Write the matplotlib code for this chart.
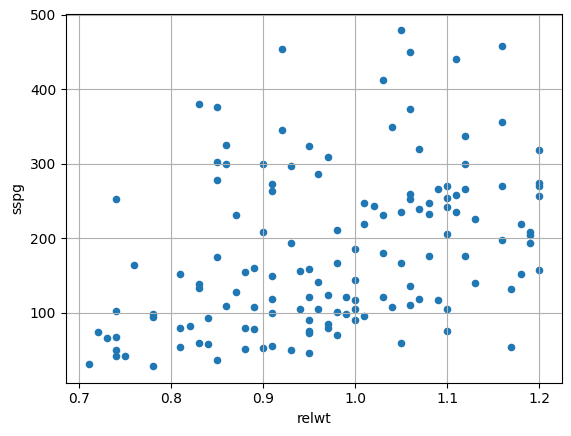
import matplotlib
matplotlib.use("Agg")
import matplotlib.pyplot as plt

relwt = [0.83, 0.85, 0.86, 0.92, 1.05, 1.03, 0.92, 0.95, 1.04, 1.06,
         1.11, 1.16, 1.06, 1.16, 1.12, 1.07, 1.20, 0.85, 0.86, 0.85,
         0.74, 0.87, 0.85, 0.76, 0.81, 0.83, 0.83, 0.97, 0.90, 0.93,
         0.96, 0.91, 0.91, 0.90, 1.01, 1.02, 1.03, 1.05, 1.01, 0.98,
         0.93, 1.00, 1.03, 1.05, 0.98, 0.88, 0.89, 0.91, 0.94, 0.95,
         0.96, 1.00, 0.87, 0.91, 0.95, 0.97, 0.99, 1.03, 0.89, 1.00,
         1.04, 0.91, 0.94, 0.96, 0.98, 0.99, 1.00, 1.01, 0.95, 1.00,
         0.88, 0.89, 0.95, 0.95, 0.97, 0.97, 0.98, 1.05, 0.88, 0.90,
         0.91, 0.93, 0.95, 0.86, 0.74, 0.78, 0.78, 0.84, 0.72, 0.73,
         0.74, 0.81, 0.82, 0.74, 0.74, 0.75, 0.71, 0.78, 0.81, 0.83,
         0.84, 0.85, 1.12, 1.09, 1.10, 1.12, 1.16, 1.20, 1.20, 1.06,
         1.06, 1.10, 1.11, 1.20, 1.08, 1.07, 1.08, 1.10, 1.11, 1.13,
         1.18, 1.10, 1.19, 1.19, 1.16, 1.19, 1.08, 1.12, 1.18, 1.20,
         1.06, 1.13, 1.17, 1.06, 1.07, 1.09, 1.10, 1.10, 1.17]

sspg = [381, 377, 326, 454, 479, 412, 345, 324, 350, 450,
        441, 458, 373, 356, 338, 320, 319, 303, 300, 278,
        253, 232, 175, 165, 152, 139, 134, 309, 300, 297,
        286, 273, 264, 208, 247, 243, 231, 235, 219, 211,
        194, 186, 181, 167, 167, 155, 160, 150, 156, 159,
        142, 144, 128, 119, 122, 124, 122, 121, 108, 117,
        108, 100, 105, 105, 101, 98, 105, 96, 91, 91,
        80, 79, 76, 73, 85, 80, 71, 60, 52, 53,
        56, 50, 46, 109, 103, 99, 95, 93, 75, 67,
        68, 80, 83, 51, 42, 42, 32, 29, 55, 60,
        58, 37, 300, 267, 270, 266, 270, 275, 271, 260,
        253, 254, 258, 257, 247, 240, 233, 242, 235, 226,
        219, 206, 208, 204, 198, 194, 177, 177, 152, 158,
        136, 140, 132, 111, 119, 117, 105, 76, 54]

fig = plt.figure(figsize=(5.71, 4.36), dpi=100)
ax = fig.add_axes([66 / 571, (436 - 382.7) / 436, (561.5 - 66) / 571, (382.7 - 13.7) / 436])
ax.scatter(relwt, sspg, s=20, color="#1f77b4")
ax.grid(True)
ax.set_xlabel("relwt")
ax.set_ylabel("sspg")
fig.savefig("out.png", dpi=100)
